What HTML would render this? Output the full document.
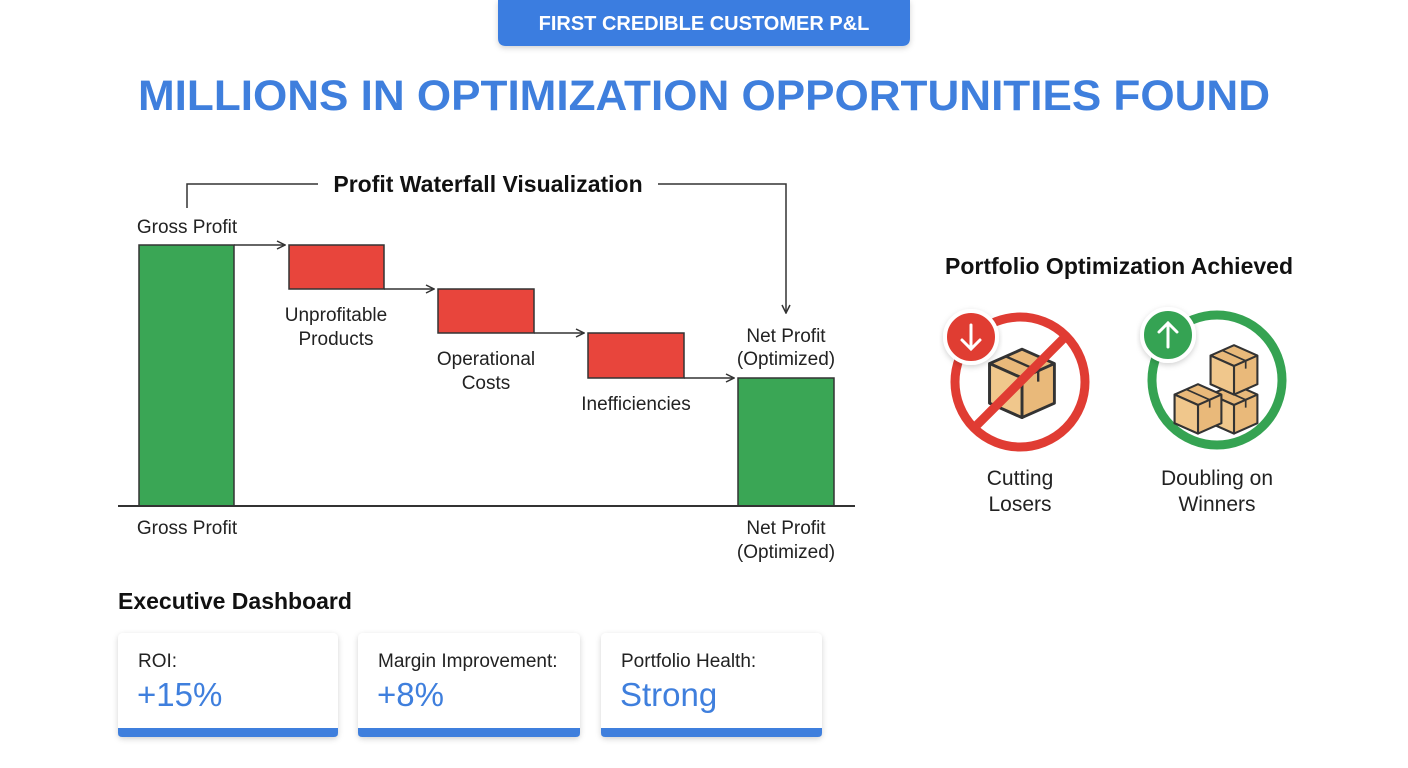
<!DOCTYPE html><html><head><style>body{margin:0;background:#fff}svg{display:block}text{font-family:"Liberation Sans",sans-serif}</style></head><body>
<svg width="1408" height="768" viewBox="0 0 1408 768" xmlns="http://www.w3.org/2000/svg">
<defs>
<marker id="ar" markerWidth="10" markerHeight="10" refX="9" refY="5" orient="auto" markerUnits="userSpaceOnUse"><path d="M1,1 L9,5 L1,9" fill="none" stroke="#333" stroke-width="1.5"/></marker>
<filter id="sh" x="-10%" y="-10%" width="120%" height="130%"><feDropShadow dx="0" dy="2" stdDeviation="3" flood-opacity="0.18"/></filter>
<g id="box"><path d="M-18,-8 L0,-16 L18,-8 L18,14 L0,22 L-18,14 Z" fill="#e9b97a" stroke="#333" stroke-width="1.6" stroke-linejoin="round"/><path d="M-18,-8 L0,0 L18,-8 M0,0 L0,22" fill="none" stroke="#333" stroke-width="1.6"/><path d="M-18,-8 L0,0 L0,22 L-18,14Z" fill="#f0c78c" stroke="#333" stroke-width="1.6" stroke-linejoin="round"/><path d="M-9,-12 L9,-4 L9,2" fill="none" stroke="#333" stroke-width="1.3"/></g>
</defs>
<path d="M498,0 H910 V38 Q910,46 902,46 H506 Q498,46 498,38 Z" fill="#3b7de0" filter="url(#sh)"/>
<text x="704" y="30" text-anchor="middle" font-size="20" font-weight="bold" fill="#fff">FIRST CREDIBLE CUSTOMER P&amp;L</text>
<text x="704" y="110" text-anchor="middle" font-size="43" font-weight="bold" fill="#3f7fdd" textLength="1132" lengthAdjust="spacingAndGlyphs">MILLIONS IN OPTIMIZATION OPPORTUNITIES FOUND</text>

<path d="M187,208 V184 H318" fill="none" stroke="#333" stroke-width="1.5"/>
<path d="M658,184 H786 V313" fill="none" stroke="#333" stroke-width="1.5" marker-end="url(#ar)"/>
<text x="488" y="192" text-anchor="middle" font-size="23" font-weight="bold" fill="#111">Profit Waterfall Visualization</text>
<g font-size="19" fill="#222" text-anchor="middle">
<text x="187" y="233">Gross Profit</text>
<text x="336" y="321">Unprofitable</text><text x="336" y="345">Products</text>
<text x="486" y="365">Operational</text><text x="486" y="389">Costs</text>
<text x="636" y="410">Inefficiencies</text>
<text x="786" y="342">Net Profit</text><text x="786" y="365">(Optimized)</text>
<text x="187" y="534">Gross Profit</text>
<text x="786" y="534">Net Profit</text><text x="786" y="558">(Optimized)</text>
</g>
<g stroke="#333" stroke-width="1.5">
<rect x="139" y="245" width="95" height="261" fill="#3aa655"/>
<rect x="289" y="245" width="95" height="44" fill="#e8453c"/>
<rect x="438" y="289" width="96" height="44" fill="#e8453c"/>
<rect x="588" y="333" width="96" height="45" fill="#e8453c"/>
<rect x="738" y="378" width="96" height="128" fill="#3aa655"/>
</g>
<g stroke="#333" stroke-width="1.5" marker-end="url(#ar)">
<line x1="234" y1="245" x2="285" y2="245"/><line x1="384" y1="289" x2="434" y2="289"/><line x1="534" y1="333" x2="584" y2="333"/><line x1="684" y1="378" x2="734" y2="378"/>
</g>
<line x1="118" y1="506" x2="855" y2="506" stroke="#333" stroke-width="2"/>

<text x="1119" y="274" text-anchor="middle" font-size="23" font-weight="bold" fill="#111">Portfolio Optimization Achieved</text>
<circle cx="1020" cy="382" r="65" fill="#fff" stroke="#e03c33" stroke-width="9"/>
<use href="#box" transform="translate(1022,378) scale(1.8)"/>
<line x1="974" y1="428" x2="1066" y2="336" stroke="#e03c33" stroke-width="9"/>
<circle cx="971" cy="337" r="26" fill="#e03c33" stroke="#fff" stroke-width="4" filter="url(#sh)"/>
<path d="M971,325 V348 M962,340 L971,349 L980,340" fill="none" stroke="#fff" stroke-width="3" stroke-linecap="round"/>
<circle cx="1217" cy="380" r="65" fill="#fff" stroke="#35a352" stroke-width="9"/>
<use href="#box" transform="translate(1234,405) scale(1.3)"/>
<use href="#box" transform="translate(1234,366) scale(1.3)"/>
<use href="#box" transform="translate(1198,405) scale(1.3)"/>
<circle cx="1168" cy="335" r="26" fill="#35a352" stroke="#fff" stroke-width="4" filter="url(#sh)"/>
<path d="M1168,347 V323 M1159,332 L1168,323 L1177,332" fill="none" stroke="#fff" stroke-width="3" stroke-linecap="round"/>
<g font-size="21" fill="#222" text-anchor="middle">
<text x="1020" y="485">Cutting</text><text x="1020" y="511">Losers</text>
<text x="1217" y="485">Doubling on</text><text x="1217" y="511">Winners</text>
</g>

<text x="118" y="609" font-size="23" font-weight="bold" fill="#111">Executive Dashboard</text>
<g filter="url(#sh)">
<rect x="118" y="633" width="220" height="104" rx="5" fill="#fff"/>
<rect x="358" y="633" width="222" height="104" rx="5" fill="#fff"/>
<rect x="601" y="633" width="221" height="104" rx="5" fill="#fff"/>
</g>
<g fill="#3f7fdd">
<path d="M118,728 H338 V733 Q338,737 334,737 H122 Q118,737 118,733Z"/>
<path d="M358,728 H580 V733 Q580,737 576,737 H362 Q358,737 358,733Z"/>
<path d="M601,728 H822 V733 Q822,737 818,737 H605 Q601,737 601,733Z"/>
</g>
<g font-size="19" fill="#222">
<text x="138" y="667">ROI:</text><text x="378" y="667">Margin Improvement:</text><text x="621" y="667">Portfolio Health:</text>
</g>
<g font-size="33" fill="#3f7fdd">
<text x="137" y="706">+15%</text><text x="377" y="706">+8%</text><text x="620" y="706">Strong</text>
</g>
</svg>
</body></html>
